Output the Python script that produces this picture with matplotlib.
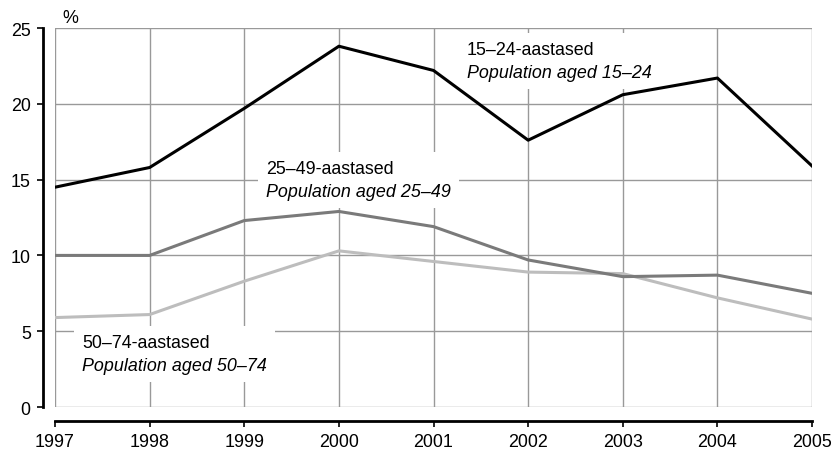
import matplotlib.pyplot as plt
from matplotlib.patches import Rectangle
from matplotlib.transforms import Bbox

plt.rcParams['font.family'] = ['Liberation Sans', 'DejaVu Sans']

years = [1997, 1998, 1999, 2000, 2001, 2002, 2003, 2004, 2005]
aged_15_24 = [14.5, 15.8, 19.7, 23.8, 22.2, 17.6, 20.6, 21.7, 15.9]
aged_25_49 = [10.0, 10.0, 12.3, 12.9, 11.9, 9.7, 8.6, 8.7, 7.5]
aged_50_74 = [5.9, 6.1, 8.3, 10.3, 9.6, 8.9, 8.8, 7.2, 5.8]

labels = [
    ('15–24-aastased', 'Population aged 15–24', 2001.35, 23.3),
    ('25–49-aastased', 'Population aged 25–49', 1999.23, 15.46),
    ('50–74-aastased', 'Population aged 50–74', 1997.29, 3.96),
]

fs = 12.9
fig = plt.figure(figsize=(8.35, 4.52), dpi=100)
ax = fig.add_axes([0.0659, 0.0973, 0.9066, 0.8385])

# grid
for y in [0, 5, 10, 15, 20, 25]:
    ax.axhline(y, color='#999999', linewidth=1, zorder=1)
for x in years:
    ax.axvline(x, color='#999999', linewidth=1, zorder=1)

ax.plot(years, aged_50_74, color='#bdbdbd', linewidth=2.2, zorder=4)
ax.plot(years, aged_25_49, color='#7a7a7a', linewidth=2.2, zorder=4)
ax.plot(years, aged_15_24, color='black', linewidth=2.2, zorder=5)

ax.set_xlim(1997, 2005)
ax.set_ylim(0, 25)

# two-line labels on white boxes
renderer = fig.canvas.get_renderer()
for est, eng, lx, ly in labels:
    t1 = ax.annotate(est, (lx, ly), fontsize=fs, va='baseline', ha='left', zorder=3)
    t2 = ax.annotate(eng, (lx, ly), xytext=(0, -23), textcoords='offset pixels',
                     fontsize=fs, style='italic', va='baseline', ha='left', zorder=3)
    bb = Bbox.union([t1.get_window_extent(renderer), t2.get_window_extent(renderer)])
    bb = bb.padded(8)
    inv = ax.transData.inverted()
    (x0, y0), (x1, y1) = inv.transform([[bb.x0, bb.y0], [bb.x1, bb.y1]])
    ax.add_patch(Rectangle((x0, y0), x1 - x0, y1 - y0, facecolor='white',
                           edgecolor='none', zorder=2))

ax.set_xticks(years)
ax.set_yticks([0, 5, 10, 15, 20, 25])
ax.tick_params(labelsize=fs, length=4.5, width=1.2, direction='out')
ax.tick_params(axis='x', pad=4)
ax.tick_params(axis='y', pad=4)

ax.spines['top'].set_visible(False)
ax.spines['right'].set_visible(False)
ax.spines['left'].set_position(('outward', 9))
ax.spines['bottom'].set_position(('outward', 10))
ax.spines['left'].set_linewidth(2)
ax.spines['bottom'].set_linewidth(2)

ax.annotate('%', (0, 1), xycoords='axes fraction', xytext=(7, 6),
            textcoords='offset pixels', fontsize=fs, ha='left', va='baseline')

fig.savefig('out.png', dpi=100)
